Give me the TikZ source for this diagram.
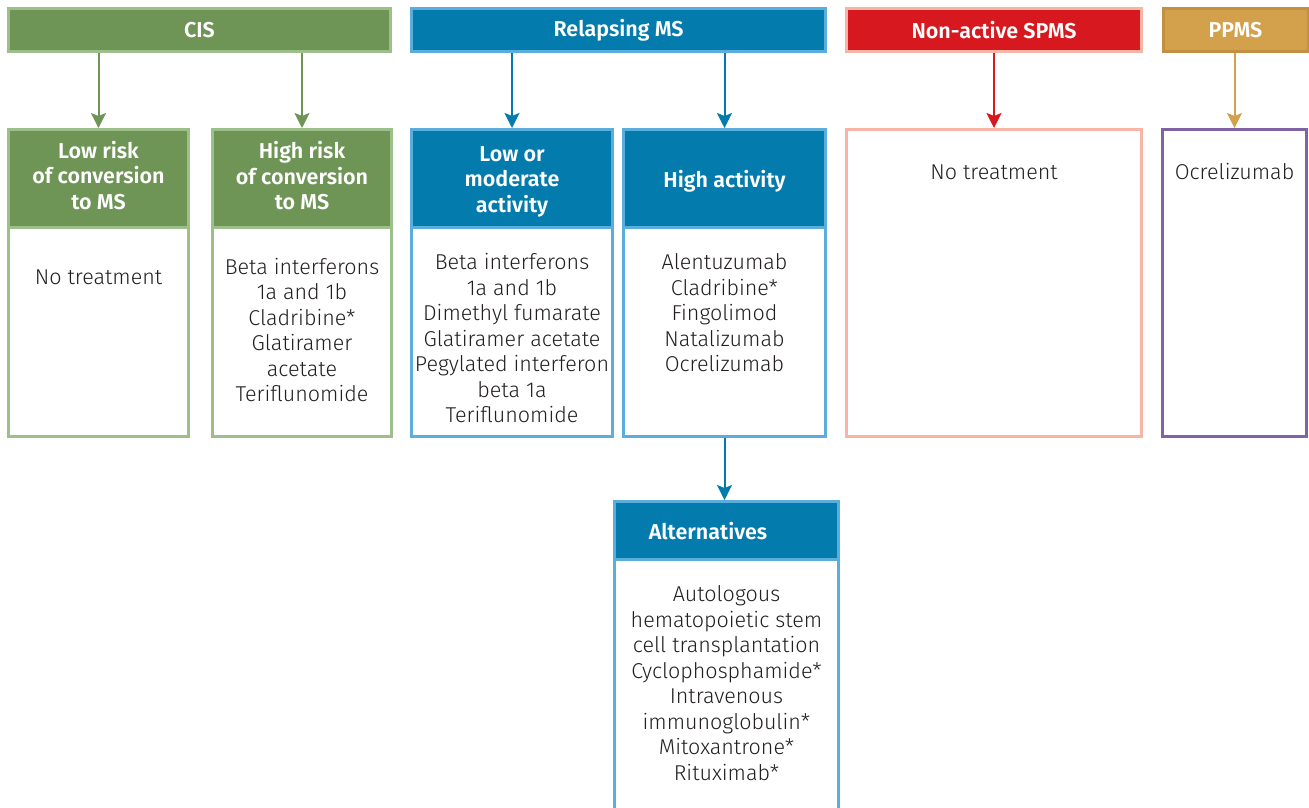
\documentclass[tikz,border=0pt]{standalone}
\usepackage{fontspec}
\IfFontExistsTF{Fira Sans Light}{\setmainfont{Fira Sans Light}[BoldFont={Fira Sans SemiBold}]}{\setmainfont{Fira Sans}}
\usetikzlibrary{arrows.meta}
\definecolor{cisdark}{HTML}{6E9556}
\definecolor{cislight}{HTML}{9DC08B}
\definecolor{rmsdark}{HTML}{037BAD}
\definecolor{rmslight}{HTML}{5BAEDC}
\definecolor{spmsdark}{HTML}{D7191F}
\definecolor{spmslight}{HTML}{F8B4A5}
\definecolor{ppmsdark}{HTML}{D3A04C}
\definecolor{ppmsedge}{HTML}{C39042}
\definecolor{ppmsbox}{HTML}{7F63A4}
\definecolor{txt}{HTML}{231F20}
\tikzset{
  hdr/.style={draw, line width=3pt, text=white, font=\bfseries\fontsize{21.5}{25.5}\selectfont, align=center, inner sep=0pt},
  frame/.style={draw, line width=3pt, fill=white, inner sep=0pt},
  body/.style={font=\fontsize{21.5}{25.5}\selectfont, text=txt, align=center, inner sep=0pt},
  arr/.style={line width=2pt, -{Stealth[length=15pt,width=15pt,inset=3pt]}},
}
\begin{document}
\begin{tikzpicture}[x=1pt,y=-1pt]
\clip (0,0) rectangle (1309,807);
\fill[white] (0,0) rectangle (1309,807);
% top headers
\node[hdr, fill=cisdark, draw=cislight, minimum width=382pt, minimum height=43pt] (cis) at (199.5,30) {CIS};
\node[hdr, fill=rmsdark, draw=rmslight, minimum width=414pt, minimum height=43pt] (rms) at (618.5,30) {Relapsing MS};
\node[hdr, fill=spmsdark, draw=spmslight, minimum width=295pt, minimum height=43pt] (spms) at (994,30) {Non-active SPMS};
\node[hdr, fill=ppmsdark, draw=ppmsedge, minimum width=145pt, minimum height=43pt] (ppms) at (1235.5,30) {PPMS};
% level 2 frames
\node[frame, draw=cislight, minimum width=180pt, minimum height=307pt] (lowrisk) at (98.5,283) {};
\node[frame, draw=cislight, minimum width=179pt, minimum height=307pt] (highrisk) at (302,283) {};
\node[frame, draw=rmslight, minimum width=201pt, minimum height=307pt] (lowact) at (512,283) {};
\node[frame, draw=rmslight, minimum width=202pt, minimum height=307pt] (highact) at (724.5,283) {};
\node[frame, draw=spmslight, minimum width=295pt, minimum height=307pt] (spmsbox) at (994,283) {};
\node[frame, draw=ppmsbox, minimum width=144pt, minimum height=307pt] (ppmsbox) at (1234.5,283) {};
% level 2 headers
\node[hdr, fill=cisdark, draw=cislight, minimum width=180pt, minimum height=98pt] (lowriskh) at (98.5,178.5) {};
\node[hdr, fill=cisdark, draw=cislight, minimum width=179pt, minimum height=98pt] (highriskh) at (302,178.5) {};
\node[hdr, fill=rmsdark, draw=rmslight, minimum width=201pt, minimum height=98pt] (lowacth) at (512,178.5) {};
\node[hdr, fill=rmsdark, draw=rmslight, minimum width=202pt, minimum height=98pt] (highacth) at (724.5,178.5) {};
\node[hdr, draw=none] (lowriskt) at (98.5,175.5) {Low risk\\of conversion\\to MS};
\node[hdr, draw=none] (highriskt) at (302,176) {High risk\\of conversion\\to MS};
\node[hdr, draw=none] (lowactt) at (512,181.5) {Low or\\moderate\\activity};
\node[hdr, draw=none] (highactt) at (724.5,181) {High activity};
% alternatives
\node[frame, draw=rmslight, minimum width=224pt, minimum height=330pt] (alt) at (726.5,666.5) {};
\node[hdr, fill=rmsdark, draw=rmslight, minimum width=224pt, minimum height=58pt] (alth) at (726.5,530.5) {};
\node[hdr, draw=none] (altt) at (708,531) {Alternatives};
% body texts
\node[body] (lowriskb) at (98.5,277) {No treatment};
\node[body] (highriskb) at (302,330) {Beta interferons\\1a and 1b\\Cladribine*\\Glatiramer\\acetate\\Teriflunomide};
\node[body] (lowactb) at (512,338.5) {Beta interferons\\1a and 1b\\Dimethyl fumarate\\Glatiramer acetate\\Pegylated interferon\\beta 1a\\Teriflunomide};
\node[body] (highactb) at (724.5,313) {Alentuzumab\\Cladribine*\\Fingolimod\\Natalizumab\\Ocrelizumab};
\node[body] (spmsb) at (994,172) {No treatment};
\node[body] (ppmsb) at (1234.5,172) {Ocrelizumab};
\node[body] (altb) at (726.5,683) {Autologous\\hematopoietic stem\\cell transplantation\\Cyclophosphamide*\\Intravenous\\immunoglobulin*\\Mitoxantrone*\\Rituximab*};
% arrows
\draw[arr, cisdark] (cis.south -| lowrisk.north) -- (lowrisk.north);
\draw[arr, cisdark] (cis.south -| highrisk.north) -- (highrisk.north);
\draw[arr, rmsdark] (rms.south -| lowact.north) -- (lowact.north);
\draw[arr, rmsdark] (rms.south -| highact.north) -- (highact.north);
\draw[arr, spmsdark] (spms.south) -- (spmsbox.north);
\draw[arr, ppmsdark] (ppms.south -| ppmsbox.north) -- (ppmsbox.north);
\draw[arr, rmsdark] (highact.south) -- (highact.south |- alth.north);
\end{tikzpicture}
\end{document}
